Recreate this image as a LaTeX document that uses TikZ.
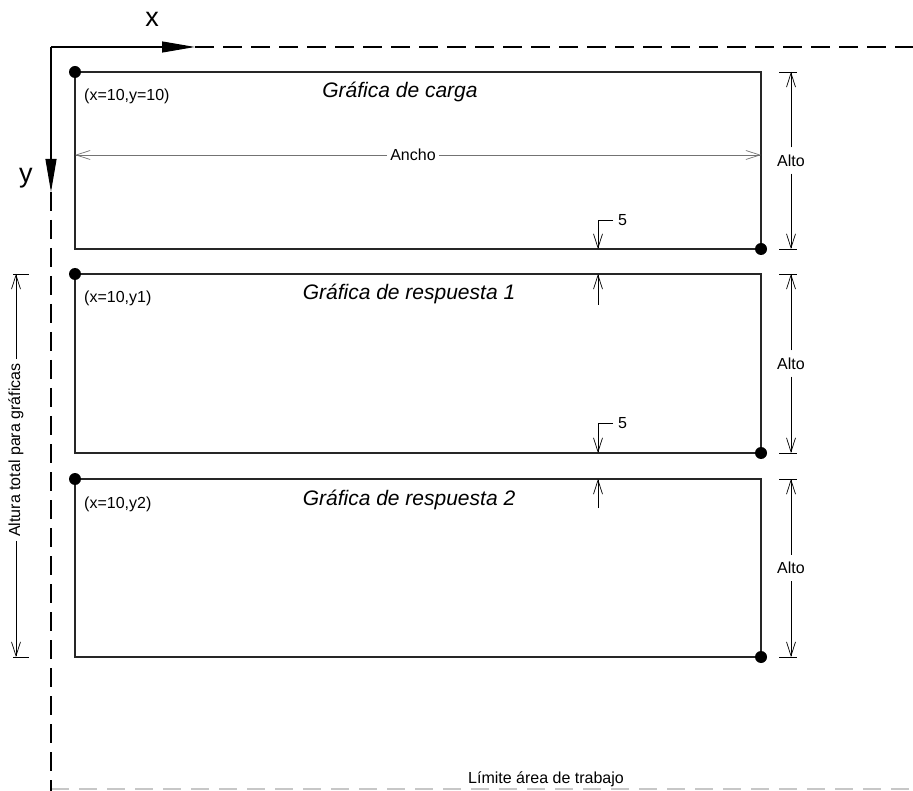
\documentclass[tikz,border=0pt]{standalone}
\usepackage{fontspec}
\setmainfont{Liberation Sans}
\usetikzlibrary{arrows.meta}
\begin{document}
\begin{tikzpicture}[x=1pt,y=-1pt,
  boxline/.style={draw=black!85, line width=1.1pt},
  dotmark/.style={circle, fill=black, inner sep=0pt, minimum size=12pt},
  dimline/.style={draw=black, line width=0.7pt},
  barb/.style={-{Straight Barb[length=14pt,width=9pt]}},
  lbl/.style={font=\fontsize{16}{19}\selectfont, inner sep=0pt},
  ttl/.style={font=\fontsize{21}{25}\selectfont\itshape, inner sep=0pt},
  axl/.style={font=\fontsize{27}{32}\selectfont, inner sep=0pt},
  axisline/.style={draw=black, line width=1.1pt},
  axisdash/.style={draw=black, line width=2.6pt, dash pattern=on 19pt off 9pt},
  limitdash/.style={draw=black!22, line width=1.3pt, dash pattern=on 18pt off 10pt},
]
\useasboundingbox (0,0) rectangle (913,791);

% working area limit (bottom)
\coordinate (lim1) at (51,789);
\coordinate (lim2) at (913,789);
\draw[limitdash] (lim1) -- (lim2);
\node[lbl, anchor=base] (limite) at (546,783) {Límite área de trabajo};

% axes
\coordinate (O) at (51,47);
\coordinate (xtip) at (195,47);
\coordinate (xend) at (913,47);
\coordinate (ytip) at (51,192);
\coordinate (yend) at (51,791);
\draw[axisline, -{Triangle[length=33pt,width=11pt]}] (O) -- (xtip);
\draw[axisline, -{Triangle[length=33pt,width=11pt]}] (O) -- (ytip);
\draw[axisdash] (xtip) -- (xend);
\draw[axisdash] (ytip) -- (yend);
\node[axl, anchor=base] (xlab) at (152,27) {x};
\node[axl, anchor=base] (ylab) at (26,183) {y};

% boxes
\coordinate (b1tl) at (75,72);  \coordinate (b1br) at (761,249);
\coordinate (b2tl) at (75,274); \coordinate (b2br) at (761,453);
\coordinate (b3tl) at (75,479); \coordinate (b3br) at (761,657);
\draw[boxline] (b1tl) rectangle (b1br);
\draw[boxline] (b2tl) rectangle (b2br);
\draw[boxline] (b3tl) rectangle (b3br);
\node[dotmark] (d1a) at (b1tl) {};
\node[dotmark] (d1b) at (b1br) {};
\node[dotmark] (d2a) at (b2tl) {};
\node[dotmark] (d2b) at (b2br) {};
\node[dotmark] (d3a) at (b3tl) {};
\node[dotmark] (d3b) at (b3br) {};

% labels in boxes
\node[lbl, anchor=base west] (c1) at (84,101) {(x=10,y=10)};
\node[lbl, anchor=base west] (c2) at (84,303) {(x=10,y1)};
\node[lbl, anchor=base west] (c3) at (84,508) {(x=10,y2)};
\node[ttl, anchor=base] (t1) at (400,98) {Gráfica de carga};
\node[ttl, anchor=base] (t2) at (409,300) {Gráfica de respuesta 1};
\node[ttl, anchor=base] (t3) at (409,505) {Gráfica de respuesta 2};

% Ancho
\coordinate (anL) at (75,155);
\coordinate (anR) at (761,155);
\node[lbl, inner xsep=3pt] (ancho) at (413,155) {Ancho};
\draw[dimline, draw=black!55, barb] (ancho.west) -- (anL);
\draw[dimline, draw=black!55, barb] (ancho.east) -- (anR);

% Alto dimensions
\coordinate (a1t) at (791,72);  \coordinate (a1b) at (791,249);
\coordinate (a2t) at (791,274); \coordinate (a2b) at (791,453);
\coordinate (a3t) at (791,479); \coordinate (a3b) at (791,657);
\node[lbl, inner ysep=7pt] (alto1) at (791,160.5) {Alto};
\node[lbl, inner ysep=7pt] (alto2) at (791,363.5) {Alto};
\node[lbl, inner ysep=7pt] (alto3) at (791,568) {Alto};
\draw[dimline, barb] (alto1.north) -- (a1t);
\draw[dimline, barb] (alto1.south) -- (a1b);
\draw[dimline, barb] (alto2.north) -- (a2t);
\draw[dimline, barb] (alto2.south) -- (a2b);
\draw[dimline, barb] (alto3.north) -- (a3t);
\draw[dimline, barb] (alto3.south) -- (a3b);
\foreach \p in {a1t,a1b,a2t,a2b,a3t,a3b}
  \draw[dimline] ([xshift=-12pt]\p) -- ([xshift=6pt]\p);

% gap dimensions "5"
\coordinate (g1top) at (598,220); \coordinate (g1a) at (598,249);
\coordinate (g1b) at (598,274);   \coordinate (g1bot) at (598,305);
\node[lbl, anchor=west] (five1) at (618,220) {5};
\draw[dimline, barb] ([xshift=-5pt]five1.west) -- (g1top) -- (g1a);
\draw[dimline, barb] (g1bot) -- (g1b);
\coordinate (g2top) at (598,423); \coordinate (g2a) at (598,453);
\coordinate (g2b) at (598,479);   \coordinate (g2bot) at (598,508);
\node[lbl, anchor=west] (five2) at (618,423) {5};
\draw[dimline, barb] ([xshift=-5pt]five2.west) -- (g2top) -- (g2a);
\draw[dimline, barb] (g2bot) -- (g2b);

% total height
\coordinate (ht) at (16,274);
\coordinate (hb) at (16,657);
\node[lbl, rotate=90, inner xsep=4pt] (altura) at (16,450) {Altura total para gráficas};
\draw[dimline, barb] (altura.east) -- (ht);
\draw[dimline, barb] (altura.west) -- (hb);
\draw[dimline] ([xshift=-3pt]ht) -- ([xshift=13pt]ht);
\draw[dimline] ([xshift=-3pt]hb) -- ([xshift=13pt]hb);
\end{tikzpicture}
\end{document}
